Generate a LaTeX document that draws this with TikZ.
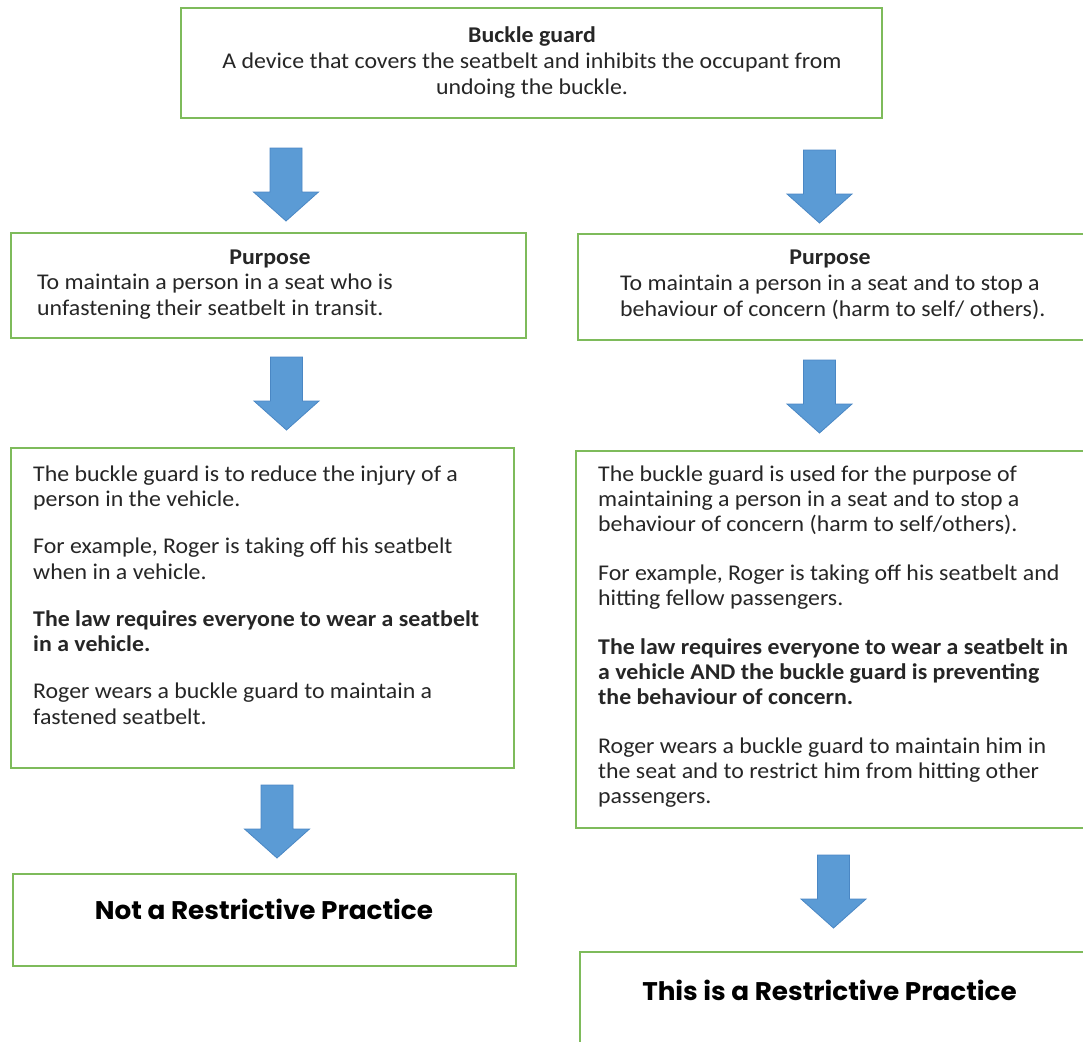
\documentclass[tikz,border=0pt]{standalone}
\usepackage{fontspec}
\setmainfont[FakeStretch=1.06]{Carlito}
\newfontfamily\gothic[FakeStretch=1.03]{Poppins}
\definecolor{boxgreen}{HTML}{7EBB5B}
\definecolor{arrowblue}{HTML}{5B9BD5}
\definecolor{arrowedge}{HTML}{4A87C4}
\definecolor{txt}{HTML}{262626}
\begin{document}
\begin{tikzpicture}[x=1pt,y=-1pt,
  greenbox/.style={draw=boxgreen, line width=1.6pt, anchor=north west, inner sep=0pt, outer sep=0pt},
  bodytext/.style={inner sep=0pt, anchor=base west, align=left, font=\fontsize{22.5}{25.5}\selectfont, text=txt},
  ctext/.style={inner sep=0pt, anchor=base, align=center, font=\fontsize{22.5}{26}\selectfont, text=txt},
  finaltext/.style={inner sep=0pt, anchor=base, font=\gothic\bfseries\fontsize{25.5}{28}\selectfont, text=black},
  blockarrow/.pic={\filldraw[fill=arrowblue, draw=arrowedge, line width=0.8pt]
     (-16,0) -- (16,0) -- (16,44) -- (32.5,44) -- (0,73) -- (-32.5,44) -- (-16,44) -- cycle;}]
\useasboundingbox (0,0) rectangle (1083,1041);
\clip (0,0) rectangle (1083,1041);
\fill[white] (0,0) rectangle (1083,1041);

% boxes
\node[greenbox, minimum width=701pt, minimum height=110pt] (top) at (181,8) {};
\node[greenbox, minimum width=515pt, minimum height=105pt] (lp) at (11,233) {};
\node[greenbox, minimum width=520pt, minimum height=106pt] (rp) at (578,234) {};
\node[greenbox, minimum width=503pt, minimum height=320pt] (lb) at (11,448) {};
\node[greenbox, minimum width=520pt, minimum height=377pt] (rb) at (576,451) {};
\node[greenbox, minimum width=503pt, minimum height=92pt] (lf) at (13,874) {};
\node[greenbox, minimum width=520pt, minimum height=110pt] (rf) at (580,952) {};

% arrows
\pic at (286,148) {blockarrow};
\pic at (819.5,150) {blockarrow};
\pic at (286.5,357) {blockarrow};
\pic at (819.5,360) {blockarrow};
\pic at (277,785) {blockarrow};
\pic at (833.5,855) {blockarrow};

% texts (anchor = baseline of the last line)
\node[ctext] (toptxt) at (532,94) {\bfseries Buckle guard\\A device that covers the seatbelt and inhibits the occupant from\\undoing the buckle.};

\node[ctext] (lph) at (270,264) {\bfseries Purpose};
\node[bodytext] (lptxt) at (37,315) {To maintain a person in a seat who is\\unfastening their seatbelt in transit.};

\node[ctext] (rph) at (830,264) {\bfseries Purpose};
\node[bodytext] (rptxt) at (620,316) {To maintain a person in a seat and to stop a\\behaviour of concern (harm to self/ others).};

\node[bodytext] (lbtxt) at (33,724) {The buckle guard is to reduce the injury of a\\person in the vehicle.\\[21.5pt]
For example, Roger is taking off his seatbelt\\when in a vehicle.\\[21.5pt]
\bfseries The law requires everyone to wear a seatbelt\\\bfseries in a vehicle.\\[21.5pt]
Roger wears a buckle guard to maintain a\\fastened seatbelt.};

\node[bodytext, font=\fontsize{22.5}{25}\selectfont] (rbtxt) at (598,803) {The buckle guard is used for the purpose of\\maintaining a person in a seat and to stop a\\behaviour of concern (harm to self/others).\\[24pt]
For example, Roger is taking off his seatbelt and\\hitting fellow passengers.\\[24pt]
\bfseries The law requires everyone to wear a seatbelt in\\\bfseries a vehicle AND the buckle guard is preventing\\\bfseries the behaviour of concern.\\[24pt]
Roger wears a buckle guard to maintain him in\\the seat and to restrict him from hitting other\\passengers.};

\node[finaltext] (lftxt) at (264,919) {Not a Restrictive Practice};
\node[finaltext] (rftxt) at (829.5,1000) {This is a Restrictive Practice};
\end{tikzpicture}
\end{document}
